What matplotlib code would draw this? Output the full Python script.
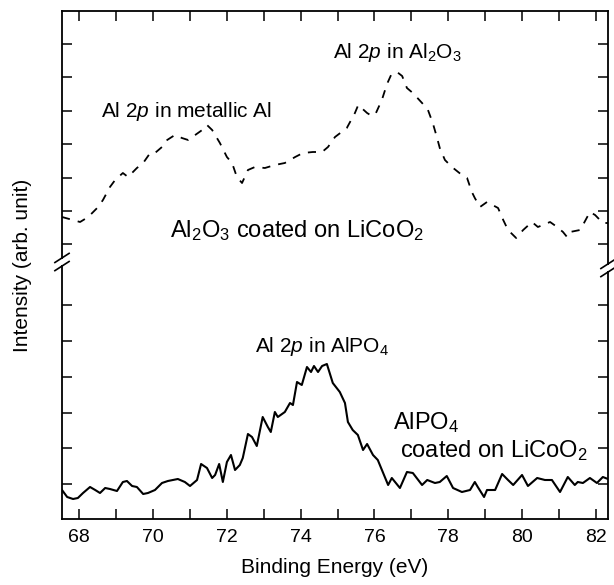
import matplotlib
matplotlib.use("Agg")
import matplotlib.pyplot as plt
from matplotlib.lines import Line2D
from matplotlib.patches import Rectangle

plt.rcParams['font.family'] = ['Liberation Sans', 'DejaVu Sans']
plt.rcParams['mathtext.fontset'] = 'custom'
plt.rcParams['mathtext.rm'] = 'Liberation Sans'
plt.rcParams['mathtext.it'] = 'Liberation Sans:italic'

# Al2O3-coated sample (dashed, offset upper trace)
al2o3_ev = [67.53, 68.02, 68.24, 68.51, 68.64, 68.83, 68.97, 69.18, 69.32, 69.56,
            69.73, 69.92, 70.05, 70.24, 70.38, 70.59, 70.78, 70.95, 71.14, 71.33,
            71.46, 71.60, 71.81, 72.00, 72.14, 72.27, 72.41, 72.57, 72.76, 73.03,
            73.30, 73.57, 73.85, 74.06, 74.33, 74.58, 74.74, 74.93, 75.25, 75.47,
            75.56, 75.80, 75.93, 76.04, 76.20, 76.34, 76.45, 76.61, 76.75, 76.88,
            77.04, 77.29, 77.45, 77.58, 77.69, 77.77, 77.91, 78.10, 78.37, 78.51,
            78.64, 78.72, 78.86, 79.05, 79.35, 79.49, 79.62, 79.84, 80.03, 80.27,
            80.43, 80.76, 80.95, 81.11, 81.22, 81.30, 81.57, 81.65, 81.84, 81.98,
            82.19, 82.33]
al2o3_int = [302, 297, 302, 312, 319, 332, 339, 346, 342, 351,
             356, 366, 366, 372, 379, 384, 381, 379, 384, 389,
             394, 389, 376, 362, 356, 342, 336, 349, 352, 351,
             354, 356, 362, 366, 367, 367, 372, 382, 391, 406,
             414, 406, 403, 406, 419, 435, 444, 447, 443, 431,
             426, 416, 409, 396, 382, 371, 359, 352, 344, 341,
             327, 321, 312, 317, 311, 299, 289, 281, 289, 297,
             292, 297, 292, 287, 282, 287, 289, 294, 307, 304,
             296, 296]

# AlPO4-coated sample (solid, lower trace)
alpo4_ev = [67.53, 67.67, 67.83, 67.96, 68.10, 68.29, 68.43, 68.56, 68.70, 68.83,
            69.02, 69.18, 69.29, 69.43, 69.56, 69.73, 69.86, 70.05, 70.24, 70.40,
            70.67, 70.86, 71.00, 71.19, 71.30, 71.46, 71.60, 71.68, 71.79, 71.89,
            72.00, 72.11, 72.22, 72.35, 72.43, 72.57, 72.68, 72.81, 72.97, 73.11,
            73.19, 73.30, 73.38, 73.57, 73.71, 73.79, 73.90, 74.03, 74.17, 74.28,
            74.36, 74.47, 74.58, 74.71, 74.87, 75.06, 75.20, 75.28, 75.41, 75.55,
            75.69, 75.80, 75.96, 76.09, 76.37, 76.47, 76.69, 76.88, 77.04, 77.29,
            77.43, 77.64, 77.77, 77.96, 78.13, 78.37, 78.59, 78.72, 78.80, 78.97,
            79.05, 79.27, 79.46, 79.62, 79.76, 80.00, 80.16, 80.41, 80.62, 80.81,
            81.03, 81.24, 81.43, 81.51, 81.65, 81.84, 82.03, 82.19, 82.33]
alpo4_int = [29, 22, 20, 21, 26, 32, 29, 26, 31, 30,
             28, 37, 38, 33, 32, 25, 26, 29, 36, 38,
             40, 37, 33, 39, 55, 51, 41, 44, 55, 37,
             57, 64, 49, 54, 61, 85, 82, 73, 102, 92,
             87, 107, 102, 107, 116, 114, 137, 134, 152, 147,
             153, 147, 153, 155, 136, 127, 116, 97, 89, 84,
             69, 75, 64, 59, 34, 41, 31, 47, 46, 34,
             39, 36, 37, 43, 31, 27, 29, 37, 32, 22,
             29, 29, 45, 39, 34, 44, 33, 41, 39, 39,
             27, 42, 34, 37, 36, 41, 36, 42, 40]

upper_yticks = [475, 442, 408, 375, 341, 308, 275]
lower_yticks = [214, 178, 142, 106, 71, 35]
x_major = [68, 70, 72, 74, 76, 78, 80, 82]
x_minor = [69, 71, 73, 75, 77, 79, 81]

fig = plt.figure(figsize=(6.14, 5.85), dpi=100)
ax = fig.add_axes([62/614, 1-519/585, (608-62)/614, (519-11)/585])

ax.plot(al2o3_ev, al2o3_int, color='black', lw=1.3, linestyle=(0, (4.5, 4.5)))
ax.plot(alpo4_ev, alpo4_int, color='black', lw=1.5)

ax.set_xlim(67.53, 82.33)
ax.set_ylim(0, 508)
ax.set_xticks(x_major)
ax.set_xticks(x_minor, minor=True)
ax.set_yticks(upper_yticks + lower_yticks)
ax.set_yticklabels([])
ax.tick_params(axis='both', which='both', direction='in', top=True, right=True,
               length=7, width=1.1, labelsize=14)
ax.tick_params(axis='x', pad=7)
for s in ax.spines.values():
    s.set_linewidth(1.3)

ax.set_xlabel('Binding Energy (eV)', fontsize=15, labelpad=9)
ax.set_ylabel('Intensity (arb. unit)', fontsize=15, labelpad=18)

# axis break marks
def brk(xa, ya):
    ax.add_patch(Rectangle((xa-0.006, ya-0.006), 0.012, 0.012, transform=ax.transAxes,
                           facecolor='white', edgecolor='none', clip_on=False, zorder=5))
    for dy in (-0.008, 0.008):
        ax.add_line(Line2D([xa-0.013, xa+0.013], [ya+dy-0.009, ya+dy+0.009],
                           transform=ax.transAxes, color='black', lw=1.2,
                           clip_on=False, zorder=6))

brk(0.0, 257/508)
brk(1.0, 251/508)

ax.text(70.92, 402, r'Al 2$p$ in metallic Al', fontsize=15, ha='center', va='baseline')
ax.text(74.87, 461, r'Al 2$p$ in Al$_2$O$_3$', fontsize=15, ha='left', va='baseline')
ax.text(70.46, 282, r'Al$_2$O$_3$ coated on LiCoO$_2$', fontsize=17, ha='left', va='baseline')
ax.text(72.76, 167, r'Al 2$p$ in AlPO$_4$', fontsize=15, ha='left', va='baseline')
ax.text(76.50, 90, r'AlPO$_4$', fontsize=17, ha='left', va='baseline')
ax.text(76.69, 62, r'coated on LiCoO$_2$', fontsize=17, ha='left', va='baseline')

fig.savefig('out.png', dpi=100)
